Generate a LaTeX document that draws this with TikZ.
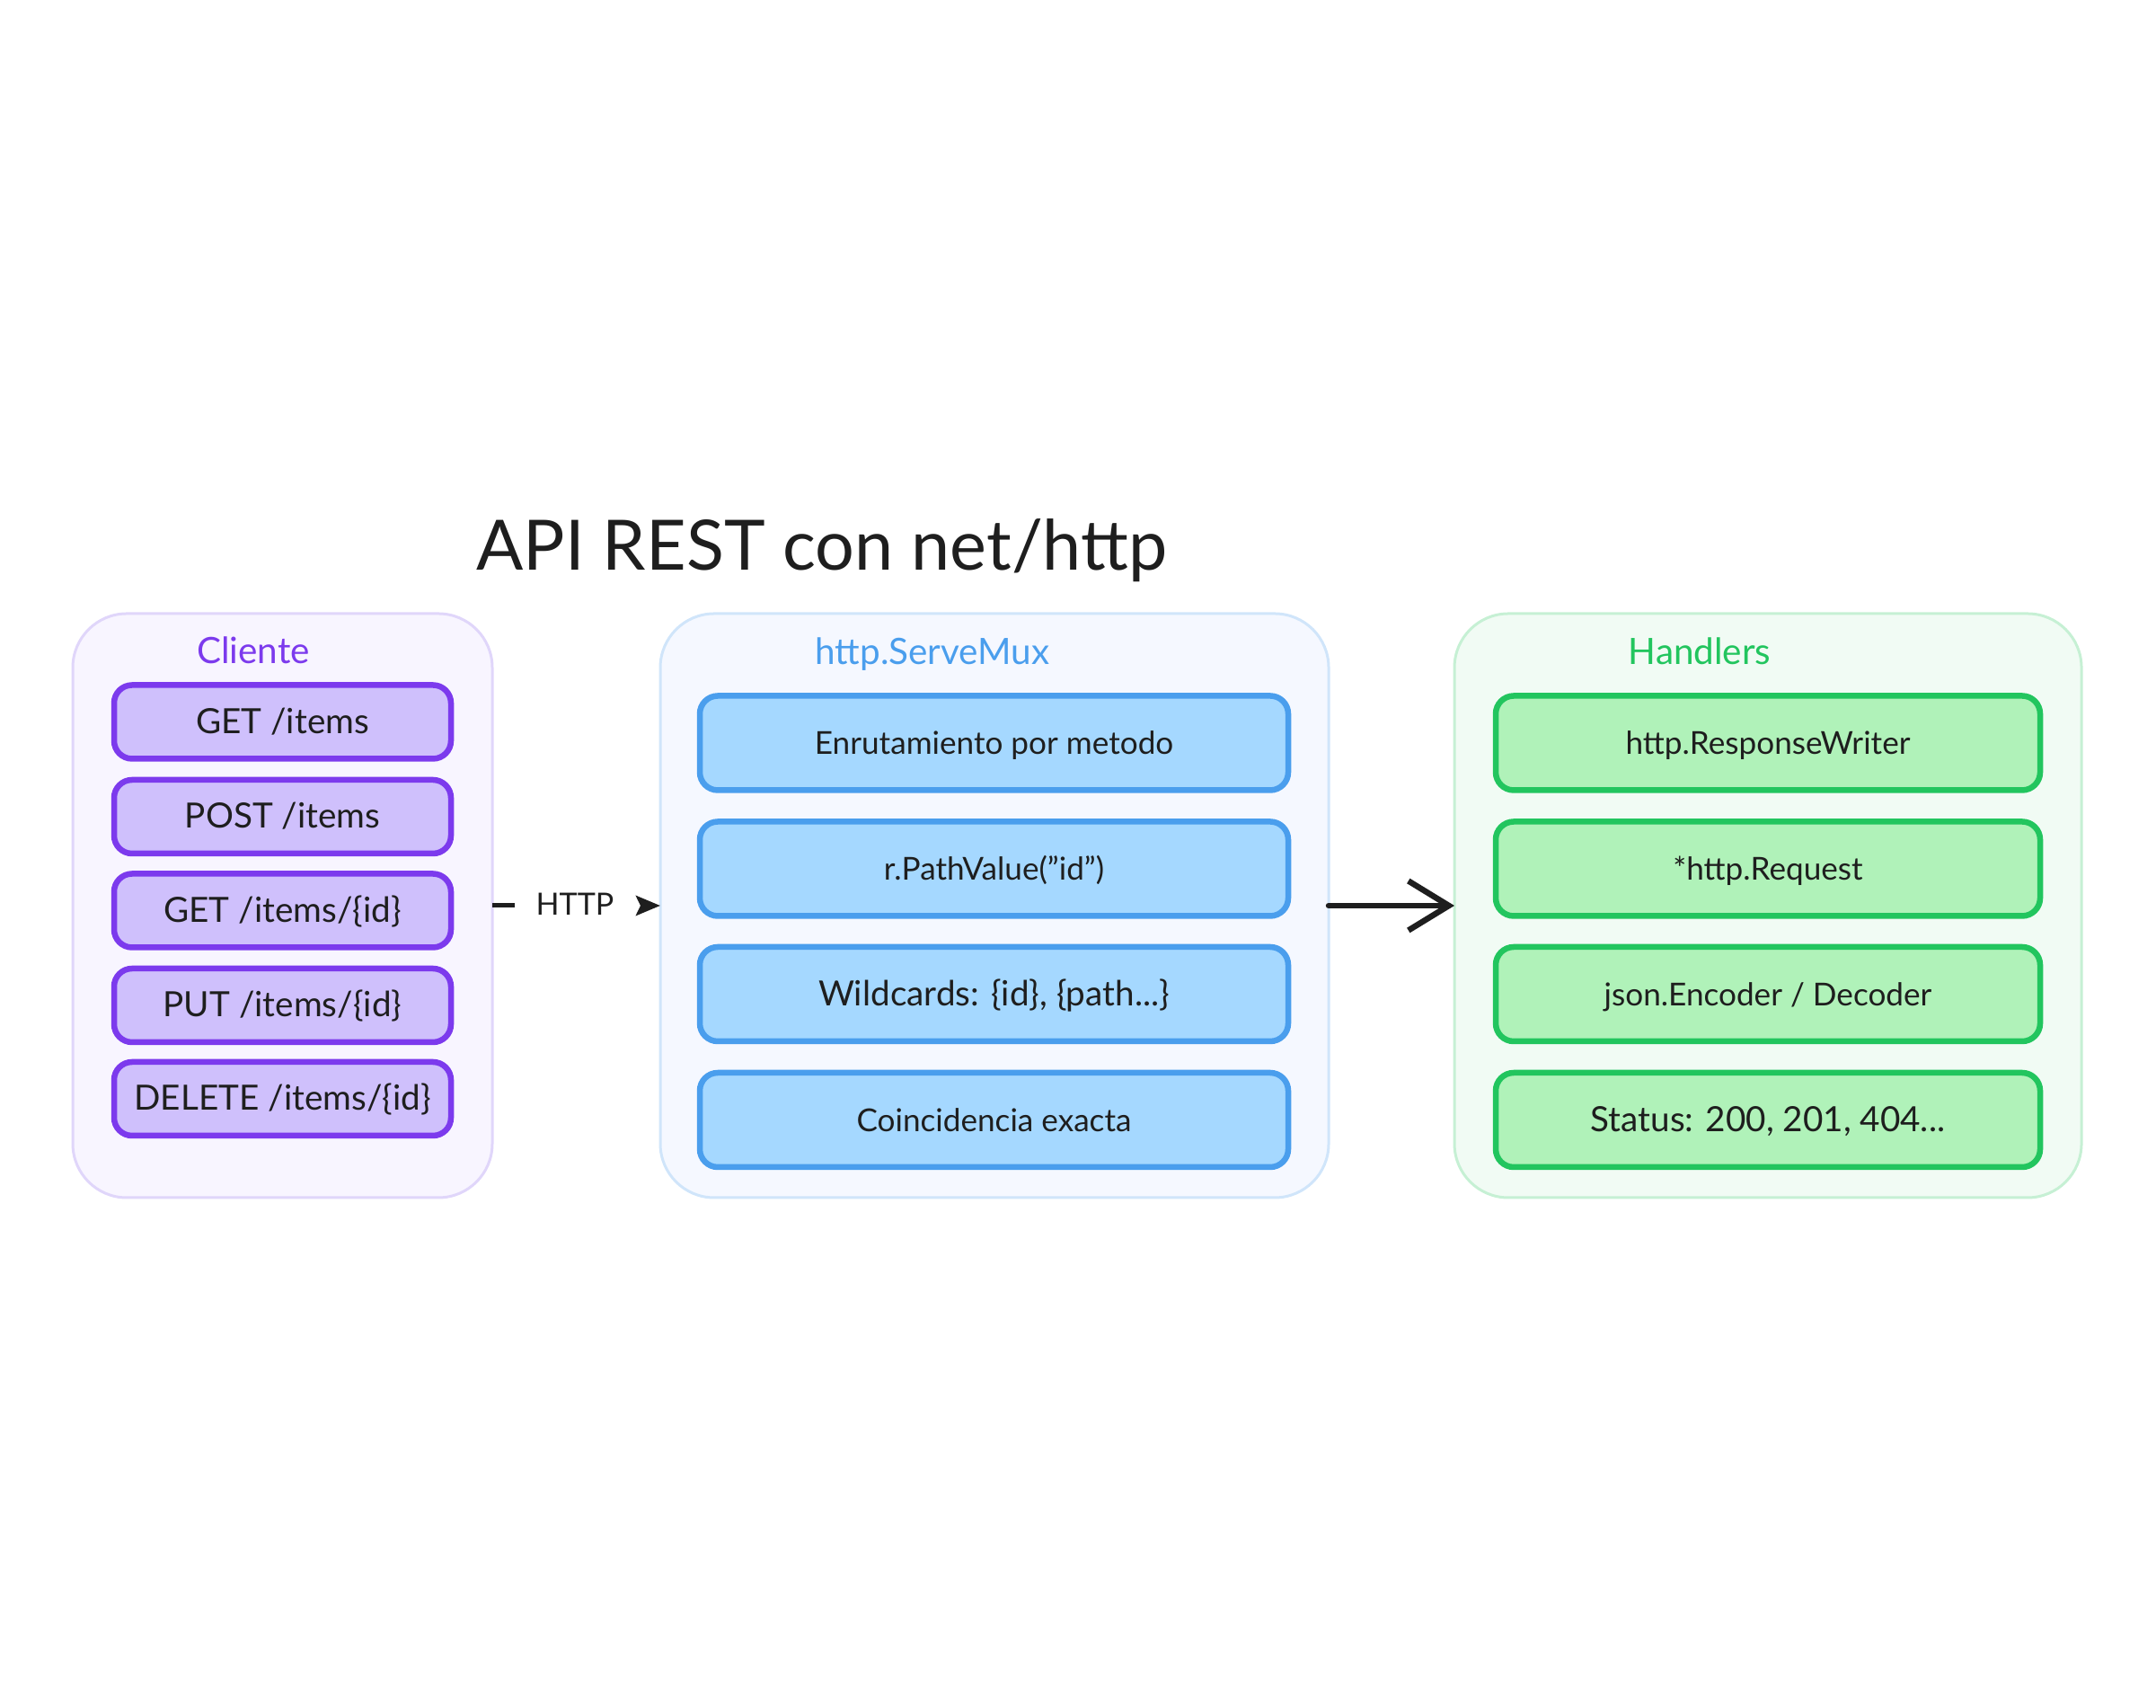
\documentclass[tikz,border=0pt]{standalone}
\usepackage{fontspec}
\setmainfont[Ligatures=ResetAll]{Lato}
\usetikzlibrary{arrows.meta}

\definecolor{inkblack}{HTML}{1E1E1E}
\definecolor{violetline}{HTML}{7C3AED}
\definecolor{violetfill}{HTML}{CFC0FC}
\definecolor{violetpanel}{HTML}{F8F5FF}
\definecolor{violetedge}{HTML}{E0D6FA}
\definecolor{blueline}{HTML}{4A9EED}
\definecolor{bluefill}{HTML}{A5D8FF}
\definecolor{bluepanel}{HTML}{F5F8FF}
\definecolor{blueedge}{HTML}{D0E5FA}
\definecolor{greenline}{HTML}{22C55E}
\definecolor{greenfill}{HTML}{B0F2B9}
\definecolor{greenpanel}{HTML}{F1FBF4}
\definecolor{greenedge}{HTML}{C6F0D4}

\tikzset{
  panel/.style={draw,line width=0.03cm,rounded corners=0.6cm,inner sep=0pt,outer sep=0pt,minimum height=6.5cm},
  item/.style={draw,line width=0.065cm,rounded corners=0.2cm,inner sep=0pt,outer sep=0pt,
    text=inkblack,text height=0.28cm,text depth=0.02cm,font=\fontsize{10}{12}\selectfont},
  wideitem/.style={font=\fontsize{11}{13}\selectfont},
  clientitem/.style={item,wideitem,draw=violetline,fill=violetfill,minimum width=3.75cm,minimum height=0.82cm},
  muxitem/.style={item,draw=blueline,fill=bluefill,minimum width=6.55cm,minimum height=1.05cm},
  handleritem/.style={item,draw=greenline,fill=greenfill,minimum width=6.06cm,minimum height=1.05cm},
  heading/.style={inner sep=0pt,font=\fontsize{11.5}{14}\selectfont},
}

\begin{document}
\begin{tikzpicture}
  \useasboundingbox (0,0) rectangle (24,19);
  % title
  \node[inner sep=0pt,text=inkblack,font=\fontsize{22}{26}\selectfont] (title) at (9.15,12.87) {API REST con net/http};
  % panels
  \node[panel,draw=violetedge,fill=violetpanel,minimum width=4.67cm] (client) at (3.145,8.92) {};
  \node[panel,draw=blueedge,fill=bluepanel,minimum width=7.44cm] (mux) at (11.07,8.92) {};
  \node[panel,draw=greenedge,fill=greenpanel,minimum width=6.98cm] (handlers) at (19.68,8.92) {};
  % headings
  \node[heading,text=violetline] (clienttitle) at (2.82,11.76) {Cliente};
  \node[heading,text=blueline] (muxtitle) at (10.38,11.72) {http.ServeMux};
  \node[heading,text=greenline] (handlerstitle) at (18.92,11.75) {Handlers};
  % client routes
  \node[clientitem] (get) at (3.145,10.965) {GET /items};
  \node[clientitem] (post) at (3.145,9.91) {POST /items};
  \node[clientitem] (getid) at (3.145,8.865) {GET /items/\{id\}};
  \node[clientitem] (putid) at (3.145,7.81) {PUT /items/\{id\}};
  \node[clientitem] (deleteid) at (3.145,6.77) {DELETE /items/\{id\}};
  % mux features
  \node[muxitem] (routing) at (11.065,10.73) {Enrutamiento por metodo};
  \node[muxitem] (pathvalue) at (11.065,9.33) {r.PathValue("id")};
  \node[muxitem,wideitem] (wildcards) at (11.065,7.935) {Wildcards: \{id\}, \{path...\}};
  \node[muxitem] (exact) at (11.065,6.535) {Coincidencia exacta};
  % handler parts
  \node[handleritem] (writer) at (19.68,10.73) {http.ResponseWriter};
  \node[handleritem] (request) at (19.68,9.33) {*http.Request};
  \node[handleritem] (json) at (19.68,7.935) {json.Encoder / Decoder};
  \node[handleritem,wideitem] (status) at (19.68,6.535) {Status: 200, 201, 404...};
  % arrows
  \draw[inkblack,line width=0.05cm,dash pattern=on 0.25cm off 3cm,-{Stealth[length=0.27cm,width=0.22cm,inset=0.05cm]}] (client) -- (mux);
  \node[inner sep=0pt,text=inkblack,font=\fontsize{9.7}{11}\selectfont] (http) at (6.4,8.94) {HTTP};
  \draw[inkblack,line width=0.065cm,line cap=round,-{Straight Barb[length=0.45cm,width=0.55cm]}] (mux) -- (handlers);
\end{tikzpicture}
\end{document}
